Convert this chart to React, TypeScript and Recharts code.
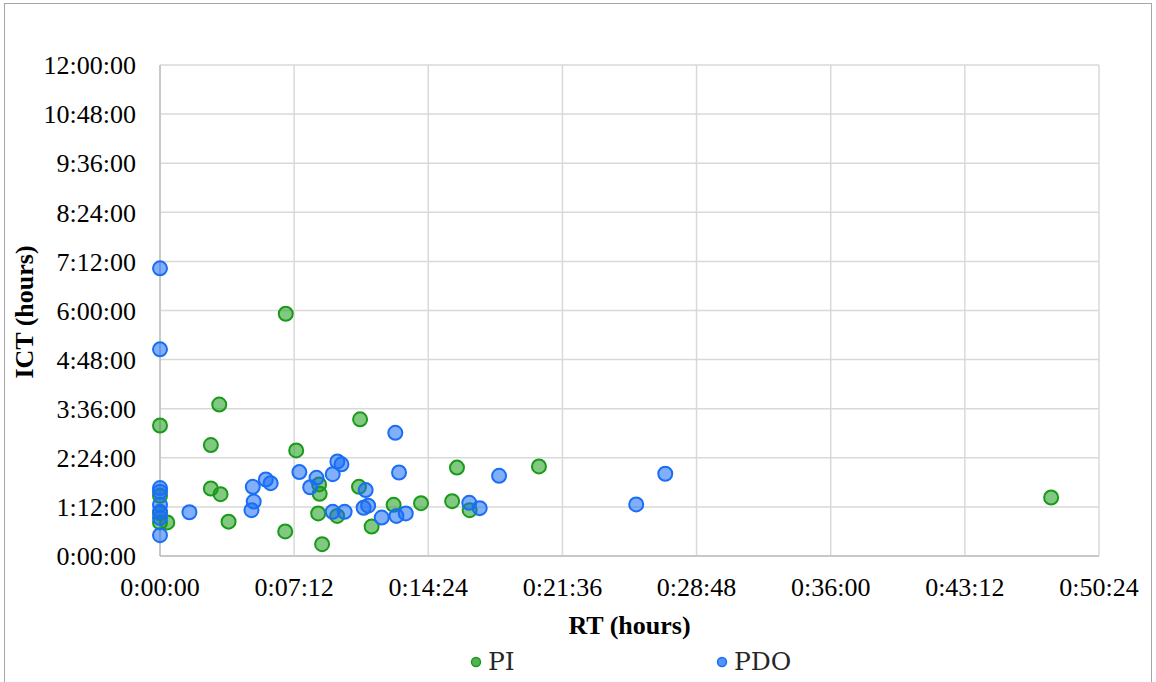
import { CartesianGrid, Scatter, ScatterChart, XAxis, YAxis } from "recharts";

// RT in minutes, ICT in hours
const piRt = [0, 0, 0, 0, 0.39, 2.73, 3.18, 2.73, 3.25, 3.68, 6.75, 6.72, 7.31, 8.54, 8.57, 8.49, 8.7, 9.51, 10.74, 10.68, 11.36, 12.54, 14.01, 15.68, 15.94, 16.62, 20.34, 47.83];
const piIct = [3.19, 1.47, 1.05, 0.82, 0.82, 2.71, 3.7, 1.65, 1.51, 0.84, 5.92, 0.6, 2.58, 1.75, 1.52, 1.04, 0.29, 0.98, 3.34, 1.69, 0.72, 1.25, 1.29, 1.34, 2.16, 1.12, 2.19, 1.43];

const pdoRt = [0, 0, 0, 0, 0, 0, 0, 0, 1.58, 4.91, 5.03, 4.98, 5.68, 5.94, 7.48, 8.4, 8.06, 9.27, 9.52, 9.74, 9.27, 9.91, 11.04, 10.93, 11.17, 11.9, 12.63, 12.83, 12.69, 13.19, 16.6, 17.16, 18.2, 25.56, 27.12];
const pdoIct = [7.03, 5.05, 1.66, 1.57, 1.25, 1.08, 0.93, 0.51, 1.07, 1.12, 1.33, 1.69, 1.87, 1.78, 2.05, 1.91, 1.68, 2.0, 2.31, 2.24, 1.08, 1.08, 1.61, 1.18, 1.23, 0.94, 3.01, 2.04, 0.98, 1.04, 1.3, 1.17, 1.96, 1.26, 2.01];

const xTicks = [0, 7.2, 14.4, 21.6, 28.8, 36, 43.2, 50.4];
const yTicks = [0, 1.2, 2.4, 3.6, 4.8, 6, 7.2, 8.4, 9.6, 10.8, 12];

const GREEN = "#1a9a1a";
const BLUE = "#1a6ef5";

const piData = piRt.map((rt, i) => ({ rt, ict: piIct[i] }));
const pdoData = pdoRt.map((rt, i) => ({ rt, ict: pdoIct[i] }));

const pad = (n: number) => String(n).padStart(2, "0");
function hms(seconds: number) {
  const s = Math.round(seconds);
  const h = Math.floor(s / 3600);
  const m = Math.floor((s % 3600) / 60);
  return `${h}:${pad(m)}:${pad(s % 60)}`;
}

const dot = (color: string) => (props: any) =>
  <circle cx={props.cx} cy={props.cy} r={7} fill={color} fillOpacity={0.55} stroke={color} strokeWidth={2} />;

const SERIF = "'Liberation Serif', 'Times New Roman', serif";
const tickStyle = { fontFamily: SERIF, fontSize: 26, fill: "#000" };
const titleStyle: React.CSSProperties = {
  position: "absolute",
  fontFamily: SERIF,
  fontWeight: "bold",
  fontSize: 26,
  color: "#000",
  textAlign: "center",
  whiteSpace: "nowrap",
};

function LegendItem({ left, color, text }: { left: number; color: string; text: string }) {
  return (
    <div style={{ position: "absolute", left, top: 648, height: 28, display: "flex", alignItems: "center" }}>
      <svg width={12} height={12} style={{ marginRight: 6 }}>
        <circle cx={6} cy={6} r={4.5} fill={color} fillOpacity={0.75} stroke={color} strokeWidth={1.5} />
      </svg>
      <span style={{ fontFamily: "'DejaVu Serif', serif", fontSize: 25, color: "#262626", lineHeight: "28px" }}>{text}</span>
    </div>
  );
}

export default function App() {
  return (
    <div
      style={{
        position: "absolute",
        left: 0,
        top: 0,
        width: 1156,
        height: 682,
        overflow: "hidden",
        background: "#fff",
        fontFamily: SERIF,
      }}
    >
      <div style={{ position: "absolute", left: 4, top: 3, width: 1146, height: 700, border: "1px solid #a6a6a6" }} />
      <ScatterChart width={1156} height={682} margin={{ top: 65, right: 57, bottom: 86, left: 60 }}>
        <CartesianGrid stroke="#d9d9d9" strokeWidth={1.5} />
        <XAxis
          type="number"
          dataKey="rt"
          domain={[0, 50.4]}
          ticks={xTicks}
          interval={0}
          tickFormatter={(v: number) => hms(v * 60)}
          tick={tickStyle}
          tickLine={false}
          tickSize={0}
          tickMargin={22}
          height={40}
          axisLine={{ stroke: "#bfbfbf", strokeWidth: 1.5 }}
        />
        <YAxis
          type="number"
          dataKey="ict"
          domain={[0, 12]}
          ticks={yTicks}
          interval={0}
          tickFormatter={(v: number) => hms(v * 3600)}
          tick={tickStyle}
          tickLine={false}
          tickSize={0}
          tickMargin={24}
          width={100}
          axisLine={{ stroke: "#bfbfbf", strokeWidth: 1.5 }}
        />
        <Scatter name="PI" data={piData} shape={dot(GREEN)} isAnimationActive={false} />
        <Scatter name="PDO" data={pdoData} shape={dot(BLUE)} isAnimationActive={false} />
      </ScatterChart>
      <div style={{ ...titleStyle, left: 160, width: 939, top: 613, lineHeight: "26px" }}>RT (hours)</div>
      <div style={{ ...titleStyle, left: -75, width: 200, top: 297, lineHeight: "30px", transform: "rotate(-90deg)" }}>
        ICT (hours)
      </div>
      <LegendItem left={470} color={GREEN} text="PI" />
      <LegendItem left={716} color={BLUE} text="PDO" />
    </div>
  );
}
